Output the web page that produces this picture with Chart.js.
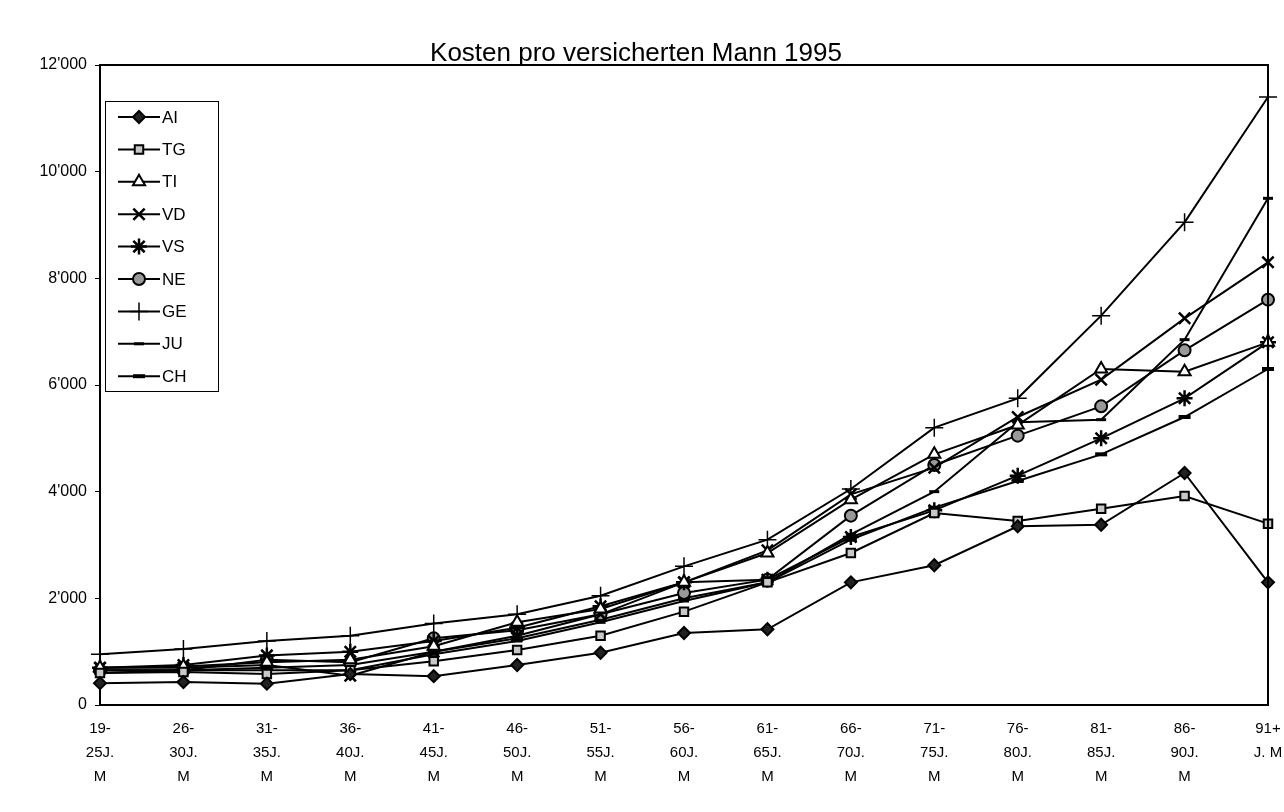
<!DOCTYPE html>
<html>
<head>
<meta charset="utf-8">
<title>Kosten pro versicherten Mann 1995</title>
<script src="https://cdn.jsdelivr.net/npm/chart.js@4/dist/chart.umd.min.js"></script>
<style>
    html, body { margin: 0; padding: 0; background: #fff; }
    #wrap { width: 1284px; height: 812px; position: relative; }
</style>
</head>
<body>
<div id="wrap"><canvas id="kostenChart" width="1284" height="812"></canvas></div>
<script>
const categories = [
    ["19-", "25J.", "M"], ["26-", "30J.", "M"], ["31-", "35J.", "M"],
    ["36-", "40J.", "M"], ["41-", "45J.", "M"], ["46-", "50J.", "M"],
    ["51-", "55J.", "M"], ["56-", "60J.", "M"], ["61-", "65J.", "M"],
    ["66-", "70J.", "M"], ["71-", "75J.", "M"], ["76-", "80J.", "M"],
    ["81-", "85J.", "M"], ["86-", "90J.", "M"], ["91+", "J. M"]
];

const yTicks = [0, 2000, 4000, 6000, 8000, 10000, 12000];

const AI = [410, 430, 400, 580, 540, 750, 980, 1350, 1420, 2300, 2620, 3350, 3380, 4350, 2300];
const TG = [600, 620, 580, 650, 820, 1030, 1300, 1750, 2300, 2850, 3600, 3450, 3680, 3920, 3400];
const TI = [700, 720, 800, 850, 1100, 1550, 1800, 2300, 2850, 3850, 4700, 5250, 6300, 6250, 6800];
const VD = [700, 700, 750, 550, 1000, 1300, 1700, 2300, 2900, 3950, 4450, 5400, 6100, 7250, 8300];
const VS = [700, 750, 930, 1000, 1200, 1450, 1850, 2300, 2350, 3150, 3650, 4300, 5000, 5750, 6800];
const NE = [650, 650, 850, 800, 1250, 1400, 1700, 2100, 2350, 3550, 4500, 5050, 5600, 6650, 7600];
const GE = [950, 1050, 1200, 1300, 1530, 1700, 2050, 2600, 3100, 4050, 5200, 5750, 7300, 9050, 11400];
const JU = [600, 650, 650, 650, 950, 1200, 1550, 1950, 2300, 3200, 4000, 5300, 5350, 6850, 9500];
const CH = [650, 650, 700, 750, 1000, 1250, 1600, 2000, 2300, 3100, 3700, 4200, 4700, 5400, 6300];

function formatNumber(value) {
    return String(value).replace(/\B(?=(\d{3})+(?!\d))/g, "'");
}

function series(label, data, style, fill, radius, borderWidth) {
    return {
        label: label,
        data: data,
        borderColor: "#000",
        borderWidth: 2,
        backgroundColor: fill,
        pointStyle: style,
        pointRadius: radius,
        pointHoverRadius: radius,
        pointBackgroundColor: fill,
        pointBorderColor: "#000",
        pointBorderWidth: borderWidth,
        tension: 0,
        fill: false,
    };
}

// legend box drawn inside the plot, like the original
const innerLegend = {
    id: "innerLegend",
    afterDraw(chart) {
        const ctx = chart.ctx;
        const box = { x: 105, y: 101, w: 113, h: 290 };
        ctx.save();
        ctx.fillStyle = "#fff";
        ctx.fillRect(box.x, box.y, box.w, box.h);
        ctx.strokeStyle = "#000";
        ctx.lineWidth = 1;
        ctx.strokeRect(box.x + 0.5, box.y + 0.5, box.w, box.h);

        chart.data.datasets.forEach(function (ds, i) {
            const y = 117 + i * 32.4;
            ctx.strokeStyle = "#000";
            ctx.lineWidth = 2;
            ctx.beginPath();
            ctx.moveTo(118, y);
            ctx.lineTo(160, y);
            ctx.stroke();
            ctx.fillStyle = ds.pointBackgroundColor;
            ctx.lineWidth = ds.pointBorderWidth;
            Chart.helpers.drawPoint(ctx, {
                pointStyle: ds.pointStyle,
                radius: ds.pointRadius,
                rotation: 0,
                borderWidth: ds.pointBorderWidth,
            }, 139, y);
            ctx.fillStyle = "#000";
            ctx.font = "17px 'Liberation Sans', Arial, sans-serif";
            ctx.textBaseline = "middle";
            ctx.textAlign = "left";
            ctx.fillText(ds.label, 162, y + 1);
        });
        ctx.restore();
    },
};

// frame on top and right, underlined title
const frameAndTitle = {
    id: "frameAndTitle",
    afterDraw(chart) {
        const ctx = chart.ctx;
        const a = chart.chartArea;
        ctx.save();
        ctx.strokeStyle = "#000";
        ctx.lineWidth = 2;
        ctx.beginPath();
        ctx.moveTo(a.left, a.top);
        ctx.lineTo(a.right, a.top);
        ctx.lineTo(a.right, a.bottom);
        ctx.stroke();

        const title = "Kosten pro versicherten Mann 1995";
        ctx.font = "26px 'Liberation Sans', Arial, sans-serif";
        ctx.fillStyle = "#000";
        ctx.textAlign = "center";
        ctx.textBaseline = "alphabetic";
        const cx = 636;
        ctx.fillText(title, cx, 61);
        const w = ctx.measureText(title).width;
        ctx.lineWidth = 1.5;
        ctx.beginPath();
        ctx.moveTo(cx - w / 2, 65);
        ctx.lineTo(cx + w / 2, 65);
        ctx.stroke();
        ctx.restore();
    },
};

document.addEventListener("DOMContentLoaded", function () {
    const ctx = document.getElementById("kostenChart").getContext("2d");

    new Chart(ctx, {
        type: "line",
        data: {
            labels: categories,
            datasets: [
                series("AI", AI, "rectRot", "#222", 6, 2),
                series("TG", TG, "rect", "#c8c8c8", 6, 2),
                series("TI", TI, "triangle", "#fff", 7, 2),
                series("VD", VD, "crossRot", "#000", 8, 2.5),
                series("VS", VS, "star", "#000", 8, 2.5),
                series("NE", NE, "circle", "#999", 6, 2),
                series("GE", GE, "cross", "#000", 9, 1.5),
                series("JU", JU, "line", "#000", 5, 3),
                series("CH", CH, "line", "#000", 6, 4),
            ],
        },
        options: {
            responsive: false,
            animation: false,
            devicePixelRatio: 1,
            layout: {
                padding: { top: 65, right: 16, left: 0, bottom: 0 },
            },
            plugins: {
                legend: { display: false },
                title: { display: false },
                tooltip: { enabled: false },
            },
            scales: {
                x: {
                    offset: false,
                    afterFit: function (scale) {
                        scale.height = 107;
                        scale.paddingLeft = 0;
                        scale.paddingRight = 0;
                    },
                    grid: {
                        drawOnChartArea: false,
                        drawTicks: false,
                    },
                    border: { color: "#000", width: 2 },
                    ticks: {
                        color: "#000",
                        autoSkip: false,
                        maxRotation: 0,
                        padding: 12,
                        font: {
                            family: "'Liberation Sans', Arial, sans-serif",
                            size: 15,
                            lineHeight: 1.6,
                        },
                    },
                },
                y: {
                    min: 0,
                    max: 12000,
                    afterFit: function (scale) {
                        scale.width = 100;
                    },
                    afterBuildTicks: function (scale) {
                        scale.ticks = yTicks.map(function (v) {
                            return { value: v };
                        });
                    },
                    grid: {
                        drawOnChartArea: false,
                        drawTicks: true,
                        tickLength: 5,
                        color: "#000",
                    },
                    border: { color: "#000", width: 2 },
                    ticks: {
                        color: "#000",
                        padding: 8,
                        font: {
                            family: "'Liberation Sans', Arial, sans-serif",
                            size: 16,
                        },
                        callback: function (value) {
                            return formatNumber(value);
                        },
                    },
                },
            },
        },
        plugins: [frameAndTitle, innerLegend],
    });
});
</script>
</body>
</html>
